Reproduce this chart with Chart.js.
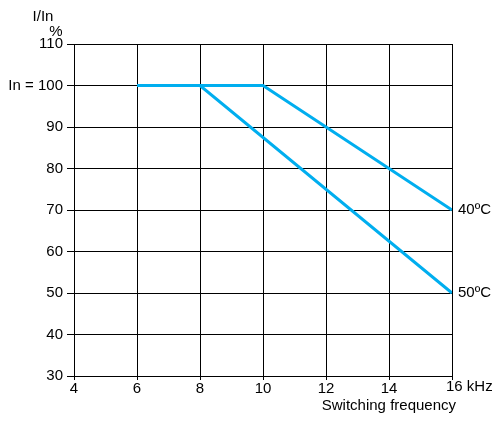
<!DOCTYPE html>
<html>
<head>
<meta charset="utf-8">
<script src="https://cdn.jsdelivr.net/npm/chart.js@4/dist/chart.umd.min.js"></script>
<style>
html,body{margin:0;padding:0;background:#fff;}
#wrap{width:494px;height:424px;position:relative;}
</style>
</head>
<body>
<div id="wrap"><canvas id="c" width="494" height="424"></canvas></div>
<script>
// Data
const freq40 = [6, 10, 16];
const val40 = [100, 100, 70];
const freq50 = [6, 8, 16];
const val50 = [100, 100, 50];
const seriesLabels = ['40ºC', '50ºC'];
const xTicks = [4, 6, 8, 10, 12, 14, 16];
const yTicks = [30, 40, 50, 60, 70, 80, 90, 100, 110];

const FONT = '"Liberation Sans", Arial, Helvetica, sans-serif';
const FS = 15;
const LINE_COLOR = '#00aeef';

function pts(xs, ys){ return xs.map((x,i)=>({x:x,y:ys[i]})); }

const textPlugin = {
  id: 'texts',
  afterDraw(chart){
    const ctx = chart.ctx;
    const xs = chart.scales.x, ys = chart.scales.y;
    ctx.save();
    ctx.fillStyle = '#000';
    ctx.font = FS + 'px ' + FONT;
    ctx.textBaseline = 'middle';
    // series end labels
    ctx.textAlign = 'left';
    ctx.fillText(seriesLabels[0], xs.getPixelForValue(freq40[freq40.length-1]) + 6, ys.getPixelForValue(val40[val40.length-1]));
    ctx.fillText(seriesLabels[1], xs.getPixelForValue(freq50[freq50.length-1]) + 6, ys.getPixelForValue(val50[val50.length-1]));
    // last x tick label
    ctx.fillText('16 kHz', xs.getPixelForValue(16) - 6, ys.bottom + 11);
    // axis titles
    ctx.textAlign = 'right';
    ctx.fillText('Switching frequency', xs.getPixelForValue(16) + 4, ys.bottom + 30);
    ctx.textAlign = 'center';
    ctx.fillText('I/In', 43, 17);
    ctx.fillText('%', 56, 32);
    ctx.restore();
  }
};

new Chart(document.getElementById('c'), {
  type: 'line',
  data: {
    datasets: [
      { label: seriesLabels[0], data: pts(freq40, val40), borderColor: LINE_COLOR, borderWidth: 3, pointRadius: 0, fill: false, tension: 0 },
      { label: seriesLabels[1], data: pts(freq50, val50), borderColor: LINE_COLOR, borderWidth: 3, pointRadius: 0, fill: false, tension: 0 }
    ]
  },
  options: {
    responsive: false,
    animation: false,
    devicePixelRatio: 1,
    layout: { padding: { left: 0, top: 44, right: 42, bottom: 0 } },
    plugins: { legend: { display: false }, tooltip: { enabled: false } },
    scales: {
      x: {
        type: 'linear',
        min: xTicks[0], max: xTicks[xTicks.length-1],
        afterBuildTicks(scale){ scale.ticks = xTicks.map(v=>({value:v})); },
        afterFit(scale){ scale.height = 48; },
        grid: { color: '#000', lineWidth: 1, tickLength: 4, drawTicks: true },
        border: { color: '#000', width: 1 },
        ticks: {
          color: '#000', font: { family: FONT, size: FS }, padding: 0, maxRotation: 0, autoSkip: false,
          callback: (v) => v === 16 ? '' : String(v)
        }
      },
      y: {
        type: 'linear',
        min: yTicks[0], max: yTicks[yTicks.length-1],
        afterBuildTicks(scale){ scale.ticks = yTicks.map(v=>({value:v})); },
        afterFit(scale){ scale.width = 74; },
        grid: { color: '#000', lineWidth: 1, tickLength: 7, drawTicks: true },
        border: { color: '#000', width: 1 },
        ticks: {
          color: '#000', font: { family: FONT, size: FS }, padding: 4, autoSkip: false,
          callback: (v) => v === 100 ? 'In = 100' : String(v)
        }
      }
    }
  },
  plugins: [textPlugin]
});
</script>
</body>
</html>
